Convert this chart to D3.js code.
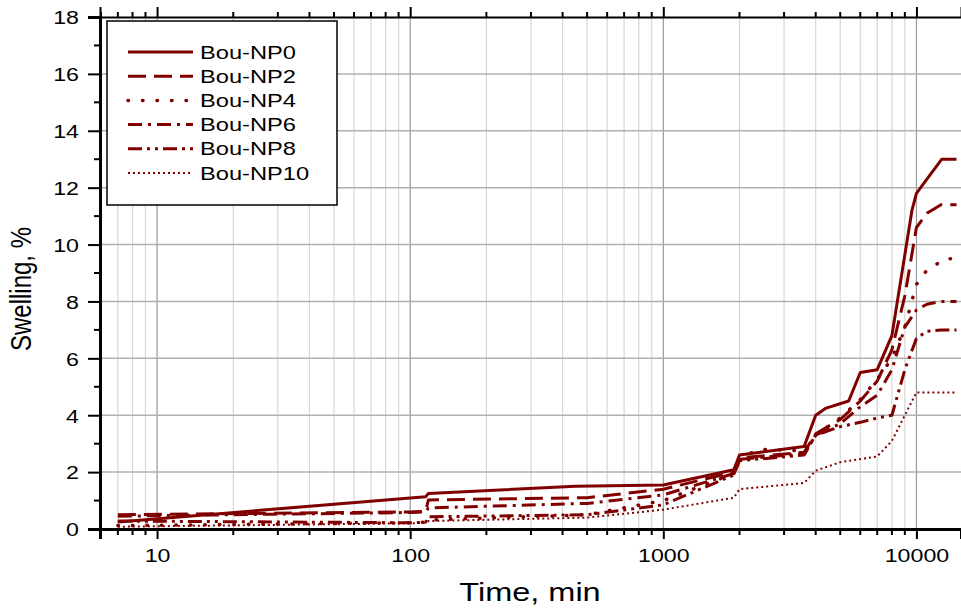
<!DOCTYPE html>
<html>
<head>
<meta charset="utf-8">
<script src="https://cdn.jsdelivr.net/npm/d3@7"></script>
<style>
  body { margin: 0; background: #fff; }
  svg { display: block; font-family: Arial, "Liberation Sans", sans-serif; }
</style>
</head>
<body>
<svg width="961" height="610"></svg>
<script>
// series names as in the legend
const series_names = ["Bou-NP0", "Bou-NP2", "Bou-NP4", "Bou-NP6", "Bou-NP8", "Bou-NP10"];

// time (min) and swelling (%), one pair of arrays per series
const np0_time = [7, 115, 118, 450, 1000, 1900, 2000, 3600, 4000, 4400, 5400, 6000, 7000, 8000, 9600, 10000, 11000, 12600, 14400];
const np0_swell = [0.25, 1.13, 1.25, 1.5, 1.55, 2.08, 2.6, 2.9, 4.0, 4.25, 4.5, 5.5, 5.6, 6.8, 11.2, 11.8, 12.3, 13.0, 13.0];

const np2_time = [7, 100, 115, 118, 500, 1000, 1900, 2000, 3600, 4000, 5000, 6000, 7000, 8000, 9000, 10000, 11000, 12500, 14400];
const np2_swell = [0.5, 0.6, 0.62, 1.02, 1.1, 1.4, 2.0, 2.5, 2.7, 3.35, 3.85, 4.5, 5.2, 6.3, 8.2, 10.6, 11.1, 11.4, 11.4];

const np4_time = [7, 100, 115, 118, 500, 1000, 1900, 2000, 2400, 3600, 4000, 5000, 6000, 7000, 8000, 9000, 10000, 11000, 13000, 14400];
const np4_swell = [0.12, 0.22, 0.24, 0.32, 0.5, 1.0, 1.95, 2.5, 2.8, 2.75, 3.3, 3.9, 4.55, 5.26, 6.0, 7.1, 8.6, 9.1, 9.5, 9.5];

const np6_time = [7, 100, 115, 118, 500, 1000, 1900, 2000, 3600, 4000, 5000, 6000, 7000, 8000, 9000, 10000, 11000, 12500, 14400];
const np6_swell = [0.45, 0.58, 0.6, 0.74, 0.9, 1.2, 1.95, 2.45, 2.65, 3.3, 3.7, 4.3, 4.7, 5.6, 7.1, 7.7, 7.9, 8.0, 8.0];

const np8_time = [7, 100, 115, 118, 500, 1000, 1900, 2000, 3600, 4000, 5000, 6000, 7000, 8000, 9000, 10000, 11000, 12500, 14400];
const np8_swell = [0.28, 0.22, 0.24, 0.43, 0.5, 0.85, 1.9, 2.4, 2.6, 3.3, 3.6, 3.75, 3.9, 4.0, 5.6, 6.7, 6.95, 7.0, 7.0];

const np10_time = [7, 100, 115, 118, 500, 1000, 1900, 2000, 3600, 4000, 5000, 7000, 8000, 9000, 10000, 14400];
const np10_swell = [0.08, 0.2, 0.22, 0.28, 0.4, 0.68, 1.1, 1.4, 1.62, 2.05, 2.35, 2.55, 3.1, 4.0, 4.8, 4.8];

// axis ticks
const x_major_ticks = [10, 100, 1000, 10000];
const y_major_ticks = [0, 2, 4, 6, 8, 10, 12, 14, 16, 18];
const y_minor_ticks = [1, 3, 5, 7, 9, 11, 13, 15, 17];

function main(){
  const svg = d3.select("svg");
  const box = {left: 100, right: 961, top: 17, bottom: 529};

  const all_series = [
    {name: series_names[0], time: np0_time, swell: np0_swell, dash: null, width: 3, cap: "butt"},
    {name: series_names[1], time: np2_time, swell: np2_swell, dash: "18,8", width: 3, cap: "butt"},
    {name: series_names[2], time: np4_time, swell: np4_swell, dash: "0.5,14", width: 3.5, cap: "round"},
    {name: series_names[3], time: np6_time, swell: np6_swell, dash: "14,6,3,6", width: 3, cap: "butt"},
    {name: series_names[4], time: np8_time, swell: np8_swell, dash: "14,5,3,5,3,5", width: 3, cap: "butt"},
    {name: series_names[5], time: np10_time, swell: np10_swell, dash: "2,3", width: 2, cap: "butt"}
  ];

  const [xScale, yScale] = get_scales(box);
  draw_grid(svg, xScale, yScale, box);
  draw_lines(svg, xScale, yScale, all_series);
  draw_axes(svg, xScale, yScale, box);
  draw_legend(svg, all_series);
};

function get_scales(box){
  const xScale = d3.scaleLog().domain([5.95, 15000]).range([box.left, box.right]);
  const yScale = d3.scaleLinear().domain([0, 18]).range([box.bottom, box.top]);
  return [xScale, yScale];
};

// every 2..9 multiple of each decade inside the domain
function minor_x_ticks(xScale){
  const [lo, hi] = xScale.domain();
  const out = [];
  for (let dec = 1; dec <= 10000; dec *= 10){
    for (let m = 2; m <= 9; m++){
      const v = m * dec;
      if (v >= lo && v <= hi) out.push(v);
    }
  }
  return out;
};

// the original picture is stretched sideways, so text is too
function stretch(sel, k){
  sel.each(function(){
    const t = d3.select(this);
    const x = +t.attr("x") || 0, y = +t.attr("y") || 0;
    t.attr("x", 0).attr("y", 0).attr("transform", `translate(${x},${y}) scale(${k},1)`);
  });
};

function draw_grid(svg, xScale, yScale, box){
  const g = svg.append("g").attr("class", "grid");

  g.selectAll(".xminor").data(minor_x_ticks(xScale)).enter().append("line")
    .attr("x1", d => xScale(d)).attr("x2", d => xScale(d))
    .attr("y1", box.top).attr("y2", box.bottom)
    .attr("stroke", "#d6d6d6").attr("stroke-width", 1.2);

  g.selectAll(".xmajor").data(x_major_ticks).enter().append("line")
    .attr("x1", d => xScale(d)).attr("x2", d => xScale(d))
    .attr("y1", box.top).attr("y2", box.bottom)
    .attr("stroke", "#9a9a9a").attr("stroke-width", 1.2);

  g.selectAll(".ymajor").data(y_major_ticks.filter(d => d > 0 && d < 18)).enter().append("line")
    .attr("x1", box.left).attr("x2", box.right)
    .attr("y1", d => yScale(d)).attr("y2", d => yScale(d))
    .attr("stroke", "#b0b0b0").attr("stroke-width", 1.5);
};

function draw_lines(svg, xScale, yScale, all_series){
  const line = d3.line().x(d => xScale(d[0])).y(d => yScale(d[1]));

  svg.append("g").selectAll("path").data(all_series).enter().append("path")
    .attr("d", s => line(d3.zip(s.time, s.swell)))
    .attr("fill", "none")
    .attr("stroke", "#800000")
    .attr("stroke-width", s => s.width)
    .attr("stroke-linecap", s => s.cap)
    .attr("stroke-linejoin", "round")
    .attr("stroke-dasharray", s => s.dash);
};

function draw_axes(svg, xScale, yScale, box){
  const fmt = d3.format("d");

  // bottom axis, major then minor ticks
  const xAxis = d3.axisBottom(xScale).tickValues(x_major_ticks).tickFormat(fmt).tickSize(10).tickPadding(9);
  const gx = svg.append("g").attr("transform", `translate(0, ${box.bottom})`).call(xAxis);
  gx.append("g").selectAll("line").data(minor_x_ticks(xScale)).enter().append("line")
    .attr("x1", d => xScale(d)).attr("x2", d => xScale(d)).attr("y1", 0).attr("y2", 6);

  // top axis, ticks only
  const topAxis = d3.axisTop(xScale).tickValues(x_major_ticks).tickFormat("").tickSize(10);
  const gt = svg.append("g").attr("transform", `translate(0, ${box.top})`).call(topAxis);
  gt.append("g").selectAll("line").data(minor_x_ticks(xScale)).enter().append("line")
    .attr("x1", d => xScale(d)).attr("x2", d => xScale(d)).attr("y1", 0).attr("y2", -5);

  // left axis
  const yAxis = d3.axisLeft(yScale).tickValues(y_major_ticks).tickSize(12).tickPadding(9);
  const gy = svg.append("g").attr("transform", `translate(${box.left})`).call(yAxis);
  gy.append("g").selectAll("line").data(y_minor_ticks).enter().append("line")
    .attr("y1", d => yScale(d)).attr("y2", d => yScale(d)).attr("x1", 0).attr("x2", -6);

  [gx, gt, gy].forEach(g => {
    g.selectAll("path").attr("stroke", "#000").attr("stroke-width", 3);
    g.selectAll("line").attr("stroke", "#000").attr("stroke-width", 2);
    g.selectAll("text").attr("font-size", 19).attr("fill", "#000")
      .attr("font-family", "Arial, 'Liberation Sans', sans-serif");
  });
  gt.select("path").attr("stroke-width", 2);
  gx.selectAll("text").attr("dy", "0.71em");
  gy.selectAll("text").attr("dy", "0.36em");
  stretch(gx.selectAll("text"), 1.22);
  stretch(gy.selectAll("text"), 1.22);

  // axis titles
  const xt = svg.append("text").attr("x", 530).attr("y", 601).attr("text-anchor", "middle")
    .attr("font-size", 25).text("Time, min");
  stretch(xt, 1.3);
  svg.append("text").attr("transform", "translate(31, 289) scale(1.2,1) rotate(-90)").attr("text-anchor", "middle")
    .attr("font-size", 24).text("Swelling, %");
};

function draw_legend(svg, all_series){
  const lg = svg.append("g").attr("class", "legend");
  lg.append("rect").attr("x", 107).attr("y", 21).attr("width", 230).attr("height", 184)
    .attr("fill", "#fff").attr("stroke", "#000").attr("stroke-width", 1.5);

  const rows = lg.selectAll(".row").data(all_series).enter().append("g")
    .attr("transform", (d, i) => `translate(0, ${52 + i * 24.2})`);

  rows.append("line").attr("x1", 128).attr("x2", 193).attr("y1", 0).attr("y2", 0)
    .attr("stroke", "#800000")
    .attr("stroke-width", s => s.width)
    .attr("stroke-linecap", s => s.cap)
    .attr("stroke-dasharray", s => s.dash);

  const labels = rows.append("text").attr("x", 200).attr("y", 6.5).attr("font-size", 18.5).text(s => s.name);
  stretch(labels, 1.28);
};

main();
</script>
</body>
</html>
